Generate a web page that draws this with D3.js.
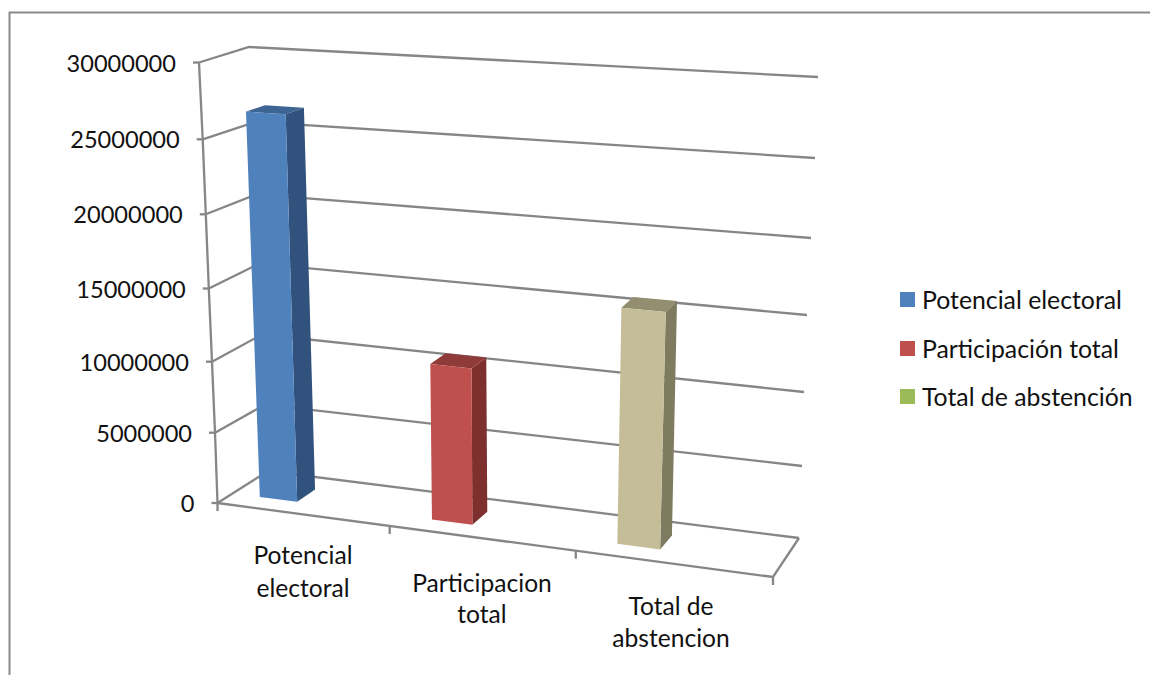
<!DOCTYPE html>
<html>
<head>
<meta charset="utf-8">
<script src="https://cdn.jsdelivr.net/npm/d3@7"></script>
<style>
html, body { margin: 0; padding: 0; background: #fff; }
svg { display: block; }
text { font-family: Lato, "Noto Sans", sans-serif; fill: #111; }
</style>
</head>
<body>
<div id="chart"></div>
<script>
// Chart values
const categories = [["Potencial", "electoral"], ["Participacion", "total"], ["Total de", "abstencion"]];
const values = [26600000, 10800000, 15800000];
const valueTicks = [0, 5000000, 10000000, 15000000, 20000000, 25000000, 30000000];
const legendLabels = ["Potencial electoral", "Participación total", "Total de abstención"];

const barFront = ["#4F81BD", "#C0504D", "#C4BD97"];
const barSide = ["#31527C", "#7D302E", "#7F7B60"];
const barTop = ["#3D6594", "#8F3B39", "#938E6F"];
const legendColors = ["#4F81BD", "#C0504D", "#9BBB59"];

const width = 1150, height = 675;
const svg = d3.select("#chart").append("svg").attr("width", width).attr("height", height);

// The four vertical edges of the perspective box, each a value -> pixel scale.
const edge = (xs, ys) => ({
  x: d3.scaleLinear().domain(valueTicks).range(xs),
  y: d3.scaleLinear().domain(valueTicks).range(ys)
});
const frontLeft = edge([217.5, 215, 212, 208.8, 205.8, 202.7, 199], [503, 432.7, 361.7, 288.5, 214.3, 139.3, 62.5]);
const backLeft = edge([268, 265, 262, 259, 256.5, 255.5, 249], [471, 404.6, 334.5, 263.7, 194.3, 121.8, 47]);
const backRight = edge([799, 802, 804, 807, 811, 815, 818], [538, 466, 392, 315, 238, 158, 77]);
const frontRight = edge([773, 776.5, 779, 782.5, 787, 791.5, 795], [577, 502.3, 425.6, 345.8, 266, 183, 99]);

// Trilinear placement: u runs along the categories, v runs front to back.
function project(u, v, value) {
  const mix = (a, b, t) => a + (b - a) * t;
  const at = (k) => mix(
    mix(frontLeft[k](value), frontRight[k](value), u),
    mix(backLeft[k](value), backRight[k](value), u),
    v
  );
  return [at("x"), at("y")];
}

// Category index -> position along the floor (foreshortened by the perspective).
const catU = d3.scaleLinear().domain([0, 1, 2, 3]).range([0, 0.31, 0.645, 1]);
const barSlot = [0.16, 0.38];      // share of the category band taken by the column
const barDepth = [0.3, 0.675];     // share of the floor depth taken by the column

const poly = d3.line();
const grid = svg.append("g").attr("fill", "none").attr("stroke", "#868686").attr("stroke-width", 2.3);

// Outer frame
svg.append("path")
  .attr("d", poly([[9.5, height], [9.5, 12.5], [width, 12.5]]))
  .attr("fill", "none").attr("stroke", "#8a8a8a").attr("stroke-width", 2);

// Back wall and side wall lines, one pair per tick
grid.selectAll(".wall").data(valueTicks).join("path").attr("class", "wall")
  .attr("d", v => poly([
    [frontLeft.x(v), frontLeft.y(v)],
    [backLeft.x(v), backLeft.y(v)],
    [backRight.x(v), backRight.y(v)]
  ]));

// Floor outline
grid.append("path").attr("d", poly([
  [frontLeft.x(0), frontLeft.y(0)],
  [frontRight.x(0), frontRight.y(0)],
  [backRight.x(0), backRight.y(0)]
]));

// Value axis with its tick marks
grid.append("path").attr("d", poly(valueTicks.map(v => [frontLeft.x(v), frontLeft.y(v)])));
grid.selectAll(".ytick").data(valueTicks).join("path").attr("class", "ytick")
  .attr("d", v => poly([[frontLeft.x(v) - 6, frontLeft.y(v)], [frontLeft.x(v), frontLeft.y(v)]]));

// Category tick marks along the front of the floor
grid.selectAll(".xtick").data(d3.range(4)).join("path").attr("class", "xtick")
  .attr("d", i => {
    const p = project(catU(i), 0, 0);
    return poly([p, [p[0], p[1] + 8]]);
  });

// Value labels
svg.selectAll(".ylabel").data(valueTicks).join("text").attr("class", "ylabel")
  .attr("x", v => frontLeft.x(v) - 23)
  .attr("y", v => frontLeft.y(v) + 9)
  .attr("text-anchor", "end")
  .attr("font-size", 23.6)
  .text(v => v);

// Columns
const bars = svg.selectAll(".bar").data(values).join("g").attr("class", "bar");
const corners = (i, d) => {
  const u0 = catU(i + barSlot[0]), u1 = catU(i + barSlot[1]);
  const [v0, v1] = barDepth;
  return {
    ftl: project(u0, v0, d), ftr: project(u1, v0, d),
    fbl: project(u0, v0, 0), fbr: project(u1, v0, 0),
    btl: project(u0, v1, d), btr: project(u1, v1, d),
    bbr: project(u1, v1, 0)
  };
};
bars.append("path").attr("fill", (d, i) => barSide[i])
  .attr("d", (d, i) => { const c = corners(i, d); return poly([c.ftr, c.btr, c.bbr, c.fbr]) + "Z"; });
bars.append("path").attr("fill", (d, i) => barTop[i])
  .attr("d", (d, i) => { const c = corners(i, d); return poly([c.ftl, c.ftr, c.btr, c.btl]) + "Z"; });
bars.append("path").attr("fill", (d, i) => barFront[i])
  .attr("d", (d, i) => { const c = corners(i, d); return poly([c.ftl, c.ftr, c.fbr, c.fbl]) + "Z"; });

// Category labels, two lines each
const catLabelX = [303, 482, 671];
const catLabelY = [[564, 597], [592, 623], [615, 647]];
svg.selectAll(".xlabel").data(categories).join("text").attr("class", "xlabel")
  .attr("text-anchor", "middle").attr("font-size", 24.6)
  .each(function (lines, i) {
    d3.select(this).selectAll("tspan").data(lines).join("tspan")
      .attr("x", catLabelX[i])
      .attr("y", (d, j) => catLabelY[i][j])
      .text(d => d);
  });

// Legend
const legendRows = [292, 341, 389];
const legend = svg.selectAll(".legend").data(legendLabels).join("g").attr("class", "legend")
  .attr("transform", (d, i) => `translate(900,${legendRows[i]})`);
legend.append("rect").attr("width", 15).attr("height", 15).attr("fill", (d, i) => legendColors[i]);
legend.append("text").attr("x", 22).attr("y", 17).attr("font-size", 24.8).text(d => d);
</script>
</body>
</html>
